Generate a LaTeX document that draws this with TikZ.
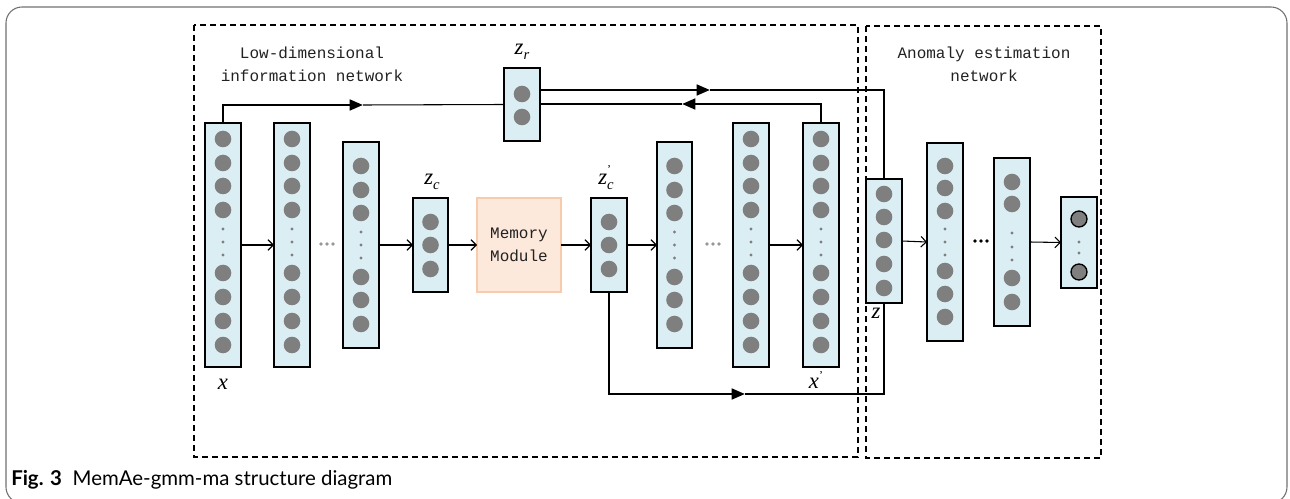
\documentclass[tikz,border=0pt]{standalone}
\usepackage{fontspec}
\setmainfont{Liberation Serif}
\newfontfamily\monof{Liberation Mono}
\newfontfamily\capf{Lato}
\usetikzlibrary{arrows.meta}
\definecolor{boxblue}{HTML}{DAEEF3}
\definecolor{cgray}{HTML}{7F7F7F}
\definecolor{memfill}{HTML}{FCE9DB}
\definecolor{memdraw}{HTML}{F8CBAD}
\definecolor{framegray}{HTML}{707070}
\definecolor{txt}{HTML}{222222}
\tikzset{
  lbox/.style={draw=black, fill=boxblue, line width=1.1pt, inner sep=0pt, outer sep=0pt},
  membox/.style={draw=memdraw, fill=memfill, line width=1pt, inner sep=0pt, outer sep=0pt,
    align=center, text=txt, font=\monof\fontsize{12}{17.5}\selectfont},
  flow/.style={line width=0.8pt, -{Straight Barb[length=4pt,width=8pt]}},
  thickln/.style={line width=2pt, -{Triangle[length=10pt,width=8pt]}},
  thinln/.style={line width=0.8pt},
  dbox/.style={draw=black, line width=1pt, dash pattern=on 4.5pt off 3pt},
  ttl/.style={align=center, text=txt, font=\monof\fontsize{12}{17.25}\selectfont},
  lab/.style={inner sep=0pt, font=\fontsize{17}{17}\selectfont\itshape},
}
\newcommand\lay[5]{\node[lbox, minimum width={(#3-#2)*0.75pt}, minimum height={(#5-#4)*0.75pt}] (#1) at ({(#2+#3)/2},{(#4+#5)/2}) {};}
\newcommand\units[3]{\foreach \yy in {#2} {\fill[cgray] (#1,\yy) circle (8.3);}\foreach \yy in {#3} {\fill[cgray] (#1,\yy) circle (1.7);}}
\newcommand\hdots[3]{\foreach \dd in {-6,0,6} {\fill[#3] ({#1+\dd},#2) circle (1.9);}}
\begin{document}
\begin{tikzpicture}[x=0.75pt,y=-0.75pt]
\useasboundingbox (0,0) rectangle (1290,499);
% outer frame
\draw[framegray, line width=0.8pt, rounded corners=12] (6,7) rectangle (1287,503);
% dashed regions
\draw[dbox] (194,25) rectangle (858,457);
\draw[dbox] (866,26) rectangle (1101,458);
\node[ttl] (tlow) at (312,64) {Low-dimensional\\information network};
\node[ttl] (tano) at (984,64) {Anomaly estimation\\network};
% layers
\lay{L1}{205}{241}{123}{367}
\units{223}{139,163,186,210,273,297,321,345}{229,242,255}
\lay{L2}{274}{310}{123}{367}
\units{292}{139,163,186,210,273,297,321,345}{229,242,255}
\lay{L3}{343}{379}{142}{348}
\units{361}{166,190,213,277,300,324}{232,245,258}
\lay{zc}{413}{448}{198}{292}
\units{430.5}{222,245,269}{}
\node[membox, minimum width={84*0.75pt}, minimum height={94*0.75pt}] (mem) at (519,245) {Memory\\Module};
\lay{zpc}{591}{627}{198}{292}
\units{609}{222,245,269}{}
\lay{L5}{657}{692}{142}{348}
\units{674.5}{166,190,213,277,300,324}{232,245,258}
\lay{L6}{733}{769}{123}{367}
\units{751}{139,163,186,210,273,297,321,345}{229,242,255}
\lay{L7}{803}{839}{123}{367}
\units{821}{139,163,186,210,273,297,321,345}{229,242,255}
\lay{zr}{504}{540}{68}{141}
\units{522}{94,117}{}
\lay{z}{866}{902}{179}{303}
\units{884}{194,217,240,264,288}{}
\lay{R2}{927}{963}{143}{341}
\units{945}{166,188,211,271,294,317}{229,242,255}
\lay{R3}{994}{1030}{158}{326}
\units{1012}{182,204,278,302}{233,247,260}
\lay{out}{1061}{1097}{197}{288}
\foreach \yy in {219,272} {\draw[fill=cgray, line width=1pt] (1079,\yy) circle (8);}
\foreach \yy in {242,253} {\fill[cgray] (1079,\yy) circle (1.7);}
% ellipses between layers
\hdots{327}{244}{cgray!80}
\hdots{713}{244}{cgray!80}
\hdots{981}{241}{black}
% labels
\node[lab] (lx) at (223,384) {x};
\node[lab] (lxp) at (816,380) {x\raisebox{7pt}{\fontsize{9}{9}\selectfont\upshape '}};
\node[lab] (lzc) at (432,182) {z\raisebox{-4pt}{\fontsize{11}{11}\selectfont c}};
\node[lab] (lzpc) at (606,178) {z\rlap{\raisebox{8pt}{\fontsize{9}{9}\selectfont\upshape '}}\raisebox{-4pt}{\fontsize{11}{11}\selectfont c}};
\node[lab] (lzr) at (522,52) {z\raisebox{-4pt}{\fontsize{11}{11}\selectfont r}};
\node[lab] (lz) at (876,313) {z};
% forward connectors
\draw[flow] (L1.east) -- (L2.west);
\draw[flow] (L3.east) -- (zc.west);
\draw[flow] (zc.east) -- (mem.west);
\draw[flow] (mem.east) -- (zpc.west);
\draw[flow] (zpc.east) -- (L5.west);
\draw[flow] (L6.east) -- (L7.west);
\draw[flow] (z.east) -- (R2.west);
\draw[flow] (R3.east) -- (out.west);
% skip connectors
\coordinate (t1) at (363,105);
\draw[thickln] (L1.north) |- (t1);
\draw[thinln] (t1) -- (zr.west);
\coordinate (t2) at (710,90);
\draw[thickln] (zr.east |- t2) -- (t2);
\draw[thinln] (t2) -| (z.north);
\coordinate (t3) at (682,104);
\draw[thickln] (L7.north) |- (t3);
\draw[thinln] (t3) -- (t3 -| zr.east);
\coordinate (t4) at (745,394);
\draw[thickln] (zpc.south) |- (t4);
\draw[thinln] (t4) -| (z.south);
% caption
\node[anchor=base west, inner sep=0pt, font=\capf\fontsize{15.3}{15.3}\selectfont] (cap) at (11,485) {\textbf{Fig. 3}\hspace{8pt}MemAe-gmm-ma structure diagram};
\end{tikzpicture}
\end{document}
